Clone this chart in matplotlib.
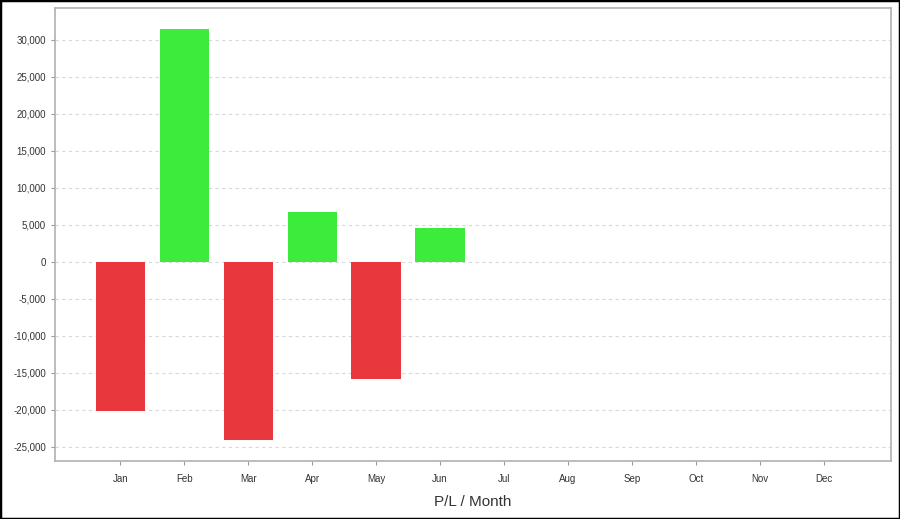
import matplotlib
matplotlib.use("Agg")
import matplotlib.pyplot as plt
from matplotlib.patches import Rectangle
from matplotlib.ticker import FuncFormatter

months = ["Jan", "Feb", "Mar", "Apr", "May", "Jun", "Jul", "Aug", "Sep", "Oct", "Nov", "Dec"]
pl_values = [-20100, 31500, -24050, 6750, -15800, 4600]
yticks = list(range(-25000, 30001, 5000))

plt.rcParams['font.family'] = ['Liberation Sans', 'DejaVu Sans']

fig = plt.figure(figsize=(9, 5.19), dpi=100)
ax = fig.add_axes([55/900, 58/519, (891-55)/900, (461-8)/519])

colors = ["#E8383D" if v < 0 else "#3DEB3D" for v in pl_values]
ax.bar(range(len(pl_values)), pl_values, width=0.77, color=colors, zorder=2)

ax.set_xlim(-1.02, 12.05)
ax.set_ylim(-26900, 34300)
ax.set_xticks(range(len(months)))
ax.set_xticklabels(months)
ax.set_yticks(yticks)
ax.yaxis.set_major_formatter(FuncFormatter(lambda v, p: f"{int(v):,}"))
ax.tick_params(axis='both', labelsize=7, colors='#999999', labelcolor='#333333', length=3, width=0.8)
ax.tick_params(axis='x', pad=6)
ax.grid(axis='y', color='#d8d8d8', linestyle=(0, (3, 3)), linewidth=0.8, zorder=0)
for s in ax.spines.values():
    s.set_color('#b0b0b0')
    s.set_linewidth(1.2)

ax.set_xlabel("P/L / Month", fontsize=11, color='#333333', labelpad=8)

fig.patches.append(Rectangle((0, 0), 1, 1, transform=fig.transFigure, fill=False,
                             edgecolor='black', linewidth=2.5, zorder=10))

fig.savefig("out.png", dpi=100)
